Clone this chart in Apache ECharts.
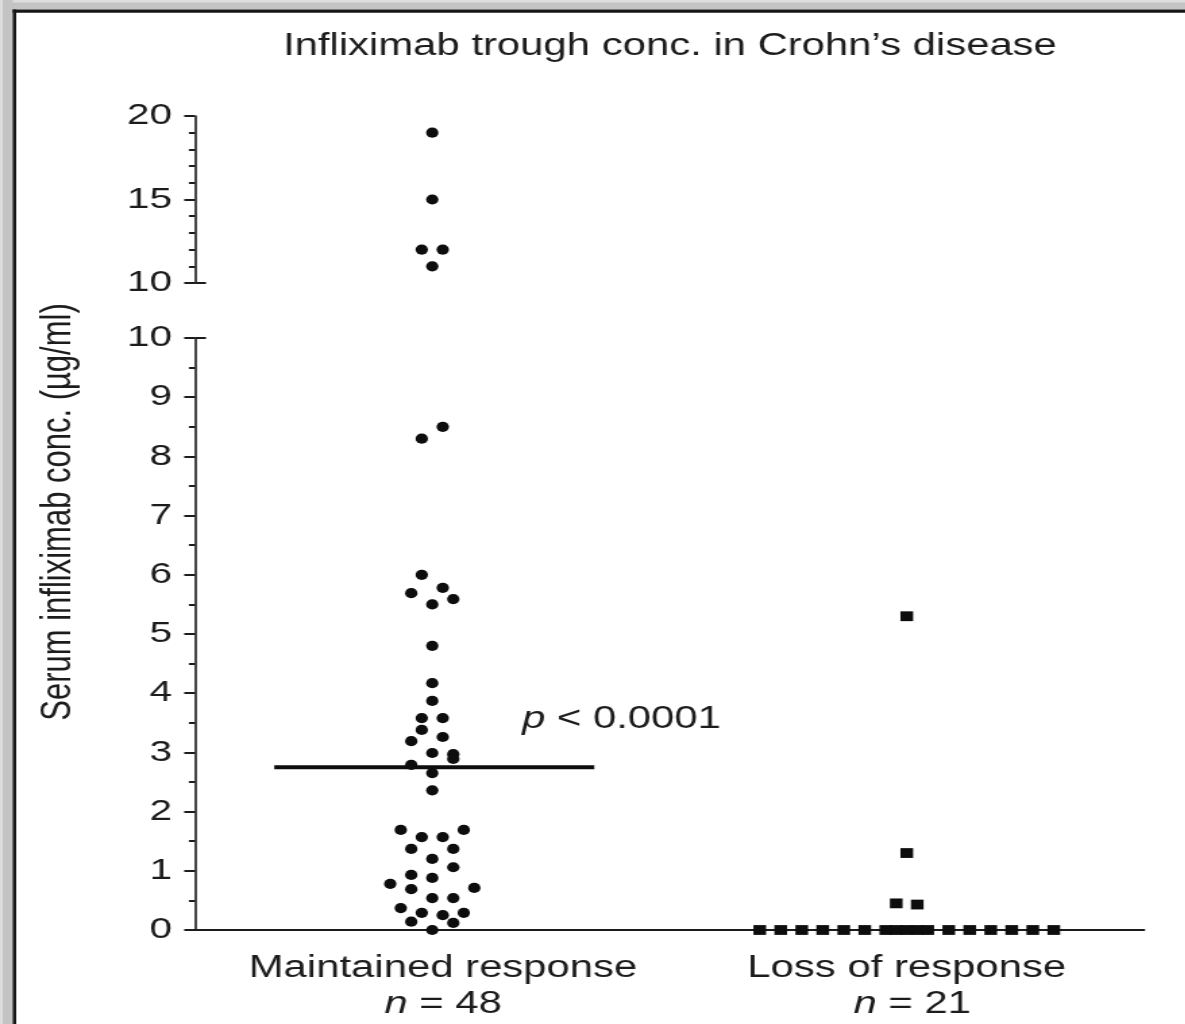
<!DOCTYPE html>
<html>
<head>
<meta charset="utf-8">
<title>Infliximab trough conc. in Crohn's disease</title>
<script src="https://cdn.jsdelivr.net/npm/echarts@6/dist/echarts.min.js"></script>
<style>
  html, body { margin: 0; padding: 0; background: #fff; overflow: hidden; }
  #page { position: absolute; left: 0; top: 0; width: 1185px; height: 1024px; overflow: hidden; background: #fff; }
  /* the figure is drawn at a narrower width and widened, giving the wide typesetting of the figure */
  #chart { position: absolute; left: 0; top: 0; width: 882px; height: 1024px; transform: scaleX(1.35); transform-origin: 0 0; }
</style>
</head>
<body>
<div id="page"><div id="chart"></div></div>
<script>
// ---- data -------------------------------------------------------------
const categories = ['Maintained response', 'Loss of response'];
const groupSizes = [48, 21];

// serum infliximab trough concentrations (µg/ml)
const maintainedValues = [19, 15, 12, 12, 11,
  8.5, 8.3, 6.0, 5.78, 5.69, 5.5, 5.59, 4.8, 4.17, 3.87, 3.58, 3.58, 3.38, 3.19, 3.26,
  2.99, 2.97, 2.89, 2.79, 2.65, 2.36, 1.69, 1.57, 1.57, 1.69, 1.37, 1.37, 1.2, 1.06,
  0.93, 0.88, 0.78, 0.71, 0.69, 0.54, 0.54, 0.37, 0.29, 0.25, 0.29, 0.14, 0.12, 0];
const lossValues = [5.3, 1.3, 0.45, 0.43,
  0, 0, 0, 0, 0, 0, 0, 0, 0, 0, 0, 0, 0, 0, 0, 0, 0];

const medianMaintained = 2.75;
const pValueLabel = '< 0.0001';
const axisBreakValue = 10;
const lowerRange = [0, 10];
const upperRange = [10, 20];

// dot-plot column of each point (side-by-side placement of equal values)
const maintainedColumns = [0, 0, -1, 1, 0,
  1, -1, -1, 1, -2, 0, 2, 0, 0, 0, -1, 1, -1, -2, 1, 0, 2, 2, -2, 0, 0,
  -3, -1, 1, 3, -2, 2, 0, 2, -2, 0, -4, 4, -2, 0, 2, -3, -1, 1, 3, -2, 2, 0];
const lossColumns = [0, 0, -1, 1,
  -14, -12, -10, -8, -6, -4, -2, -1, 0, 1, 2, 4, 6, 8, 10, 12, 14];

// ---- layout -----------------------------------------------------------
const SX = 1.35;                 // horizontal widening of the canvas
const W = 882;
const FONT = "'Liberation Sans', Arial, Helvetica, sans-serif";
const INK = '#1c1c1c';
const MARK = '#0d0d0d';
const gridLeft = 195 / SX;
const gridRight = W - 1144 / SX;
const colStep = 10.5 / SX;

function pointsFor(values, columns, catIndex, keep) {
  const out = [];
  values.forEach((v, i) => {
    if (keep(v)) out.push({ value: [catIndex, v], symbolOffset: [columns[i] * colStep, 0] });
  });
  return out;
}
const isUpper = v => v >= axisBreakValue;
const isLower = v => v < axisBreakValue;

const dotSymbol = 'path://M0,5a5,5 0 1,0 10,0a5,5 0 1,0 -10,0z';
const dotSize = [9.2, 10.2];
const squareSize = [9.4, 9.8];
const markStyle = { color: MARK, opacity: 1 };

const yAxisCommon = {
  type: 'value',
  axisLine: { show: true, onZero: false, lineStyle: { color: INK, width: 1.6 } },
  axisTick: { show: true, length: 8, lineStyle: { color: INK, width: 2 } },
  minorTick: { show: true, length: 4.5, lineStyle: { color: INK, width: 2 } },
  splitLine: { show: false },
  minorSplitLine: { show: false },
  axisLabel: { color: INK, fontSize: 30, fontFamily: FONT, margin: 17 }
};

const chart = echarts.init(document.getElementById('chart'), null, { renderer: 'canvas' });

const option = {
  backgroundColor: '#fff',
  animation: false,
  title: {
    text: "Infliximab trough conc. in Crohn\u2019s disease",
    left: 283 / SX,
    top: 31,
    padding: 0,
    textStyle: { fontSize: 31, fontWeight: 'normal', color: INK, fontFamily: FONT }
  },
  grid: [
    { left: gridLeft, right: gridRight, top: 116, height: 167 },
    { left: gridLeft, right: gridRight, top: 338, height: 592 }
  ],
  xAxis: [
    { type: 'category', gridIndex: 0, data: categories, show: false },
    {
      type: 'category', gridIndex: 1, data: categories,
      axisLine: { show: true, lineStyle: { color: INK, width: 2 } },
      axisTick: { show: false },
      axisLabel: {
        margin: 20,
        interval: 0,
        formatter: (name, idx) => {
          const s = idx === 0 ? '0' : '1';
          return '{c' + s + '|' + name + '}\n{i' + s + '|n}{t| = ' + groupSizes[idx] + '}';
        },
        rich: {
          c0: { fontSize: 31, fontFamily: FONT, color: INK, lineHeight: 36, padding: [0, 0, 0, 16] },
          c1: { fontSize: 31, fontFamily: FONT, color: INK, lineHeight: 36 },
          i0: { fontSize: 31, fontFamily: FONT, color: INK, lineHeight: 36, fontStyle: 'italic', padding: [0, 0, 0, 16] },
          i1: { fontSize: 31, fontFamily: FONT, color: INK, lineHeight: 36, fontStyle: 'italic', padding: [0, 0, 0, 8] },
          t: { fontSize: 31, fontFamily: FONT, color: INK, lineHeight: 36 }
        }
      }
    }
  ],
  yAxis: [
    Object.assign({}, yAxisCommon, {
      gridIndex: 0, min: upperRange[0], max: upperRange[1], interval: 5,
      minorTick: Object.assign({}, yAxisCommon.minorTick, { splitNumber: 5 })
    }),
    Object.assign({}, yAxisCommon, {
      gridIndex: 1, min: lowerRange[0], max: lowerRange[1], interval: 1,
      minorTick: Object.assign({}, yAxisCommon.minorTick, { splitNumber: 2 })
    })
  ],
  series: [
    {
      name: categories[0] + ' (upper)', type: 'scatter', xAxisIndex: 0, yAxisIndex: 0,
      symbol: dotSymbol, symbolSize: dotSize, itemStyle: markStyle,
      data: pointsFor(maintainedValues, maintainedColumns, 0, isUpper)
    },
    {
      name: categories[0], type: 'scatter', xAxisIndex: 1, yAxisIndex: 1,
      symbol: dotSymbol, symbolSize: dotSize, itemStyle: markStyle,
      data: pointsFor(maintainedValues, maintainedColumns, 0, isLower)
    },
    {
      name: categories[1], type: 'scatter', xAxisIndex: 1, yAxisIndex: 1,
      symbol: 'rect', symbolSize: squareSize, itemStyle: markStyle,
      data: pointsFor(lossValues, lossColumns, 1, isLower)
    },
    {
      name: 'median', type: 'custom', xAxisIndex: 1, yAxisIndex: 1,
      data: [[0, medianMaintained]],
      z: 3,
      renderItem: (params, api) => {
        const p = api.coord([api.value(0), api.value(1)]);
        const half = 160 / SX;
        const shift = 2 / SX;
        return {
          type: 'line',
          shape: { x1: p[0] - half + shift, y1: p[1], x2: p[0] + half + shift, y2: p[1] },
          style: { stroke: MARK, lineWidth: 4 }
        };
      }
    }
  ]
};
chart.setOption(option);

// axis break caps, p value, y-axis title and the frame
const yUpperBottom = chart.convertToPixel({ yAxisIndex: 0 }, axisBreakValue);
const yLowerTop = chart.convertToPixel({ yAxisIndex: 1 }, axisBreakValue);
const yMedian = chart.convertToPixel({ yAxisIndex: 1 }, medianMaintained);
const capLen = 11 / SX;

chart.setOption({
  graphic: [
    { type: 'rect', shape: { x: 0, y: 0, width: W, height: 9.5 }, style: { fill: '#c4c4c4' }, silent: true },
    { type: 'rect', shape: { x: 0, y: 0, width: W, height: 2.5 }, style: { fill: '#dddddd' }, silent: true },
    { type: 'rect', shape: { x: 0, y: 0, width: 9.4, height: 1024 }, style: { fill: '#c4c4c4' }, silent: true },
    { type: 'rect', shape: { x: 0, y: 0, width: 2, height: 1024 }, style: { fill: '#dddddd' }, silent: true },
    { type: 'rect', shape: { x: 9.4, y: 9.5, width: W, height: 3.2 }, style: { fill: '#161616' }, silent: true },
    { type: 'rect', shape: { x: 9.4, y: 9.5, width: 2.6, height: 1024 }, style: { fill: '#161616' }, silent: true },
    { type: 'line', shape: { x1: gridLeft, y1: yUpperBottom, x2: gridLeft + capLen, y2: yUpperBottom },
      style: { stroke: INK, lineWidth: 2 }, silent: true },
    { type: 'line', shape: { x1: gridLeft, y1: yLowerTop, x2: gridLeft + capLen, y2: yLowerTop },
      style: { stroke: INK, lineWidth: 2 }, silent: true },
    {
      type: 'text', x: 522 / SX, y: yMedian - 48, silent: true,
      style: {
        text: '{p|p} ' + pValueLabel,
        fontSize: 31, fontFamily: FONT, fill: INK, verticalAlign: 'middle',
        rich: { p: { fontSize: 31, fontFamily: FONT, fontStyle: 'italic', fill: INK } }
      }
    },
    {
      type: 'text', x: 58 / SX, y: 512, rotation: Math.PI / 2, silent: true,
      style: {
        text: 'Serum infliximab conc. (\u00b5g/ml)',
        fontSize: 31, fontFamily: FONT, fill: INK, align: 'center', verticalAlign: 'middle'
      }
    }
  ]
});
</script>
</body>
</html>
